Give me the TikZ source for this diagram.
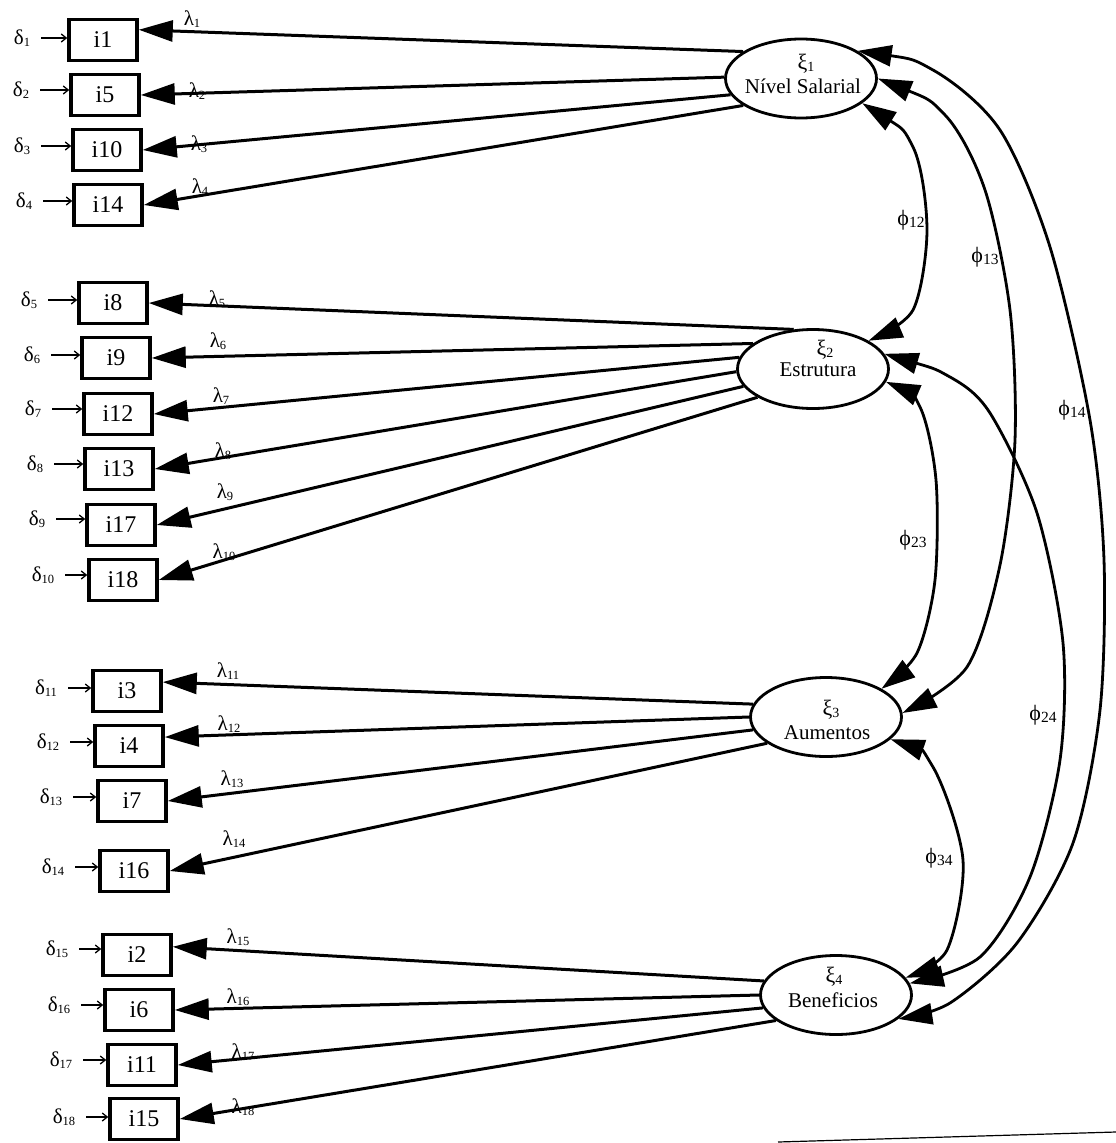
\documentclass[tikz,border=0pt]{standalone}
\usepackage{fontspec}
\setmainfont{Liberation Serif}
\usetikzlibrary{shapes.geometric,arrows.meta}
\newcommand\gsym[4]{{\fontsize{#3}{#3}\selectfont #1}\raisebox{-2pt}{\fontsize{#4}{#4}\selectfont #2}}
\newcommand\dlt[1]{\gsym{δ}{#1}{21}{12.5}}
\newcommand\mylam[1]{\gsym{λ}{#1}{21}{12.5}}
\newcommand\myphi[1]{\gsym{ϕ}{#1}{22}{15.5}}
\newcommand\myxi[1]{\gsym{ξ}{#1}{22}{14}}
\tikzset{
  obs/.style={draw, line width=3.5pt, minimum width=68pt, minimum height=41pt, inner sep=0pt, font=\fontsize{24}{24}\selectfont},
  lat/.style={draw, ellipse, line width=2.8pt, minimum width=151pt, minimum height=79pt, inner sep=0pt},
  lname/.style={inner sep=0pt, font=\fontsize{21}{21}\selectfont},
  lbl/.style={inner sep=0pt},
  load/.style={line width=3pt, -{Triangle[length=34pt,width=21pt]}},
  cov/.style={line width=2.8pt, {Triangle[length=34pt,width=21pt]}-{Triangle[length=34pt,width=21pt]}},
  err/.style={line width=1.3pt, -{Straight Barb[length=5pt,width=8pt]}},
}
\begin{document}
\begin{tikzpicture}[x=1pt,y=-1pt]
\useasboundingbox (0,0) rectangle (1116,1143);
% latent variables
\node[lat] (xi1) at (801,78.5) {};
\node[lat] (xi2) at (813,369) {};
\node[lat] (xi3) at (826,717) {};
\node[lat] (xi4) at (836,995) {};
\node[lbl] (xi1s) at (806,64) {\myxi{1}};
\node[lname] (xi1n) at (803,86) {Nível Salarial};
\node[lbl] (xi2s) at (825,350) {\myxi{2}};
\node[lname] (xi2n) at (818,370) {Estrutura};
\node[lbl] (xi3s) at (831,710) {\myxi{3}};
\node[lname] (xi3n) at (827,733) {Aumentos};
\node[lbl] (xi4s) at (834,977) {\myxi{4}};
\node[lname] (xi4n) at (833,1000) {Beneficios};
% observed variables
\node[obs] (i1) at (103,40) {i1};
\node[obs] (i5) at (105,95) {i5};
\node[obs] (i10) at (107,150) {i10};
\node[obs] (i14) at (108,205) {i14};
\node[obs] (i8) at (113,303) {i8};
\node[obs] (i9) at (116,358) {i9};
\node[obs] (i12) at (118,414) {i12};
\node[obs] (i13) at (119,469) {i13};
\node[obs] (i17) at (121,525) {i17};
\node[obs] (i18) at (123,580) {i18};
\node[obs] (i3) at (127,691) {i3};
\node[obs] (i4) at (129,746) {i4};
\node[obs] (i7) at (132,801) {i7};
\node[obs] (i16) at (134,871) {i16};
\node[obs] (i2) at (137,955) {i2};
\node[obs] (i6) at (139,1010) {i6};
\node[obs] (i11) at (142,1065) {i11};
\node[obs] (i15) at (144,1119) {i15};
% error terms
\foreach \n/\b/\x/\y in {1/i1/22/38, 2/i5/21/90, 3/i10/22/146, 4/i14/24/201,
  5/i8/29/300, 6/i9/32/355, 7/i12/33/409, 8/i13/35/464, 9/i17/37/519, 10/i18/43/575,
  11/i3/46/688, 12/i4/48/742, 13/i7/51/797, 14/i16/53/867,
  15/i2/57/949, 16/i6/59/1005, 17/i11/61/1060, 18/i15/64/1117}{
  \node[lbl] (d\n) at (\x,\y) {\dlt{\n}};
  \draw[err] ([xshift=11pt]d\n.east) -- (d\n.east -| \b.west);
}
% loadings
\draw[load] (xi1.155) -- (i1.16);
\draw[load] (xi1.179) -- (i5.east);
\draw[load] (xi1.193) -- (i10.east);
\draw[load] (xi1.205) -- (i14.east);
\draw[load] (xi2.116) -- (i8.east);
\draw[load] (xi2.157) -- (i9.east);
\draw[load] (xi2.171) -- (i12.east);
\draw[load] (xi2.182) -- (i13.east);
\draw[load] (xi2.194) -- (i17.east);
\draw[load] (xi2.207) -- (i18.east);
\draw[load] (xi3.170) -- (i3.14);
\draw[load] (xi3.180) -- (i4.14);
\draw[load] (xi3.190) -- (i7.east);
\draw[load] (xi3.204) -- (i16.east);
\draw[load] (xi4.169) -- (i2.13);
\draw[load] (xi4.180) -- (i6.east);
\draw[load] (xi4.190) -- (i11.east);
\draw[load] (xi4.203) -- (i15.east);
% loading labels
\foreach \n/\x/\y in {1/192/19, 2/197/91, 3/199/144, 4/200/187,
  5/217/299, 6/218/341, 7/221/396, 8/223/451, 9/225/492, 10/224/552,
  11/228/671, 12/229/724, 13/232/779, 14/234/839,
  15/238/937, 16/238/997, 17/243/1052, 18/243/1107}{
  \node[lbl] (l\n) at (\x,\y) {\mylam{\n}};
}
% covariances
\draw[cov] plot[smooth] coordinates {(xi1.-22) (913,147) (927,230) (913,310) (xi2.27)};
\draw[cov] plot[smooth] coordinates {(xi1.0) (945,115) (985,190) (1010,310) (1015,440) (1000,565) (967,667) (xi3.3)};
\draw[cov] plot[smooth] coordinates {(xi1.26) (933,70) (1000,130) (1050,247) (1090,420) (1104,560) (1100,710) (1073,843) (1017,943) (950,1003) (xi4.-21)};
\draw[cov] plot[smooth] coordinates {(xi2.-10) (920,407) (936,480) (935,580) (917,653) (xi3.27)};
\draw[cov] plot[smooth] coordinates {(xi2.12) (950,377) (990,413) (1037,513) (1063,643) (1060,760) (1030,877) (980,957) (xi4.9)};
\draw[cov] plot[smooth] coordinates {(xi3.-19) (933,767) (963,860) (947,950) (xi4.14)};
% covariance labels
\node[lbl] (p12) at (911,220) {\myphi{12}};
\node[lbl] (p13) at (985,257) {\myphi{13}};
\node[lbl] (p14) at (1072,410) {\myphi{14}};
\node[lbl] (p23) at (913,540) {\myphi{23}};
\node[lbl] (p24) at (1043,715) {\myphi{24}};
\node[lbl] (p34) at (939,858) {\myphi{34}};
% page edge line
\draw[line width=1.2pt] (778,1142) -- (1116,1132);
\end{tikzpicture}
\end{document}
